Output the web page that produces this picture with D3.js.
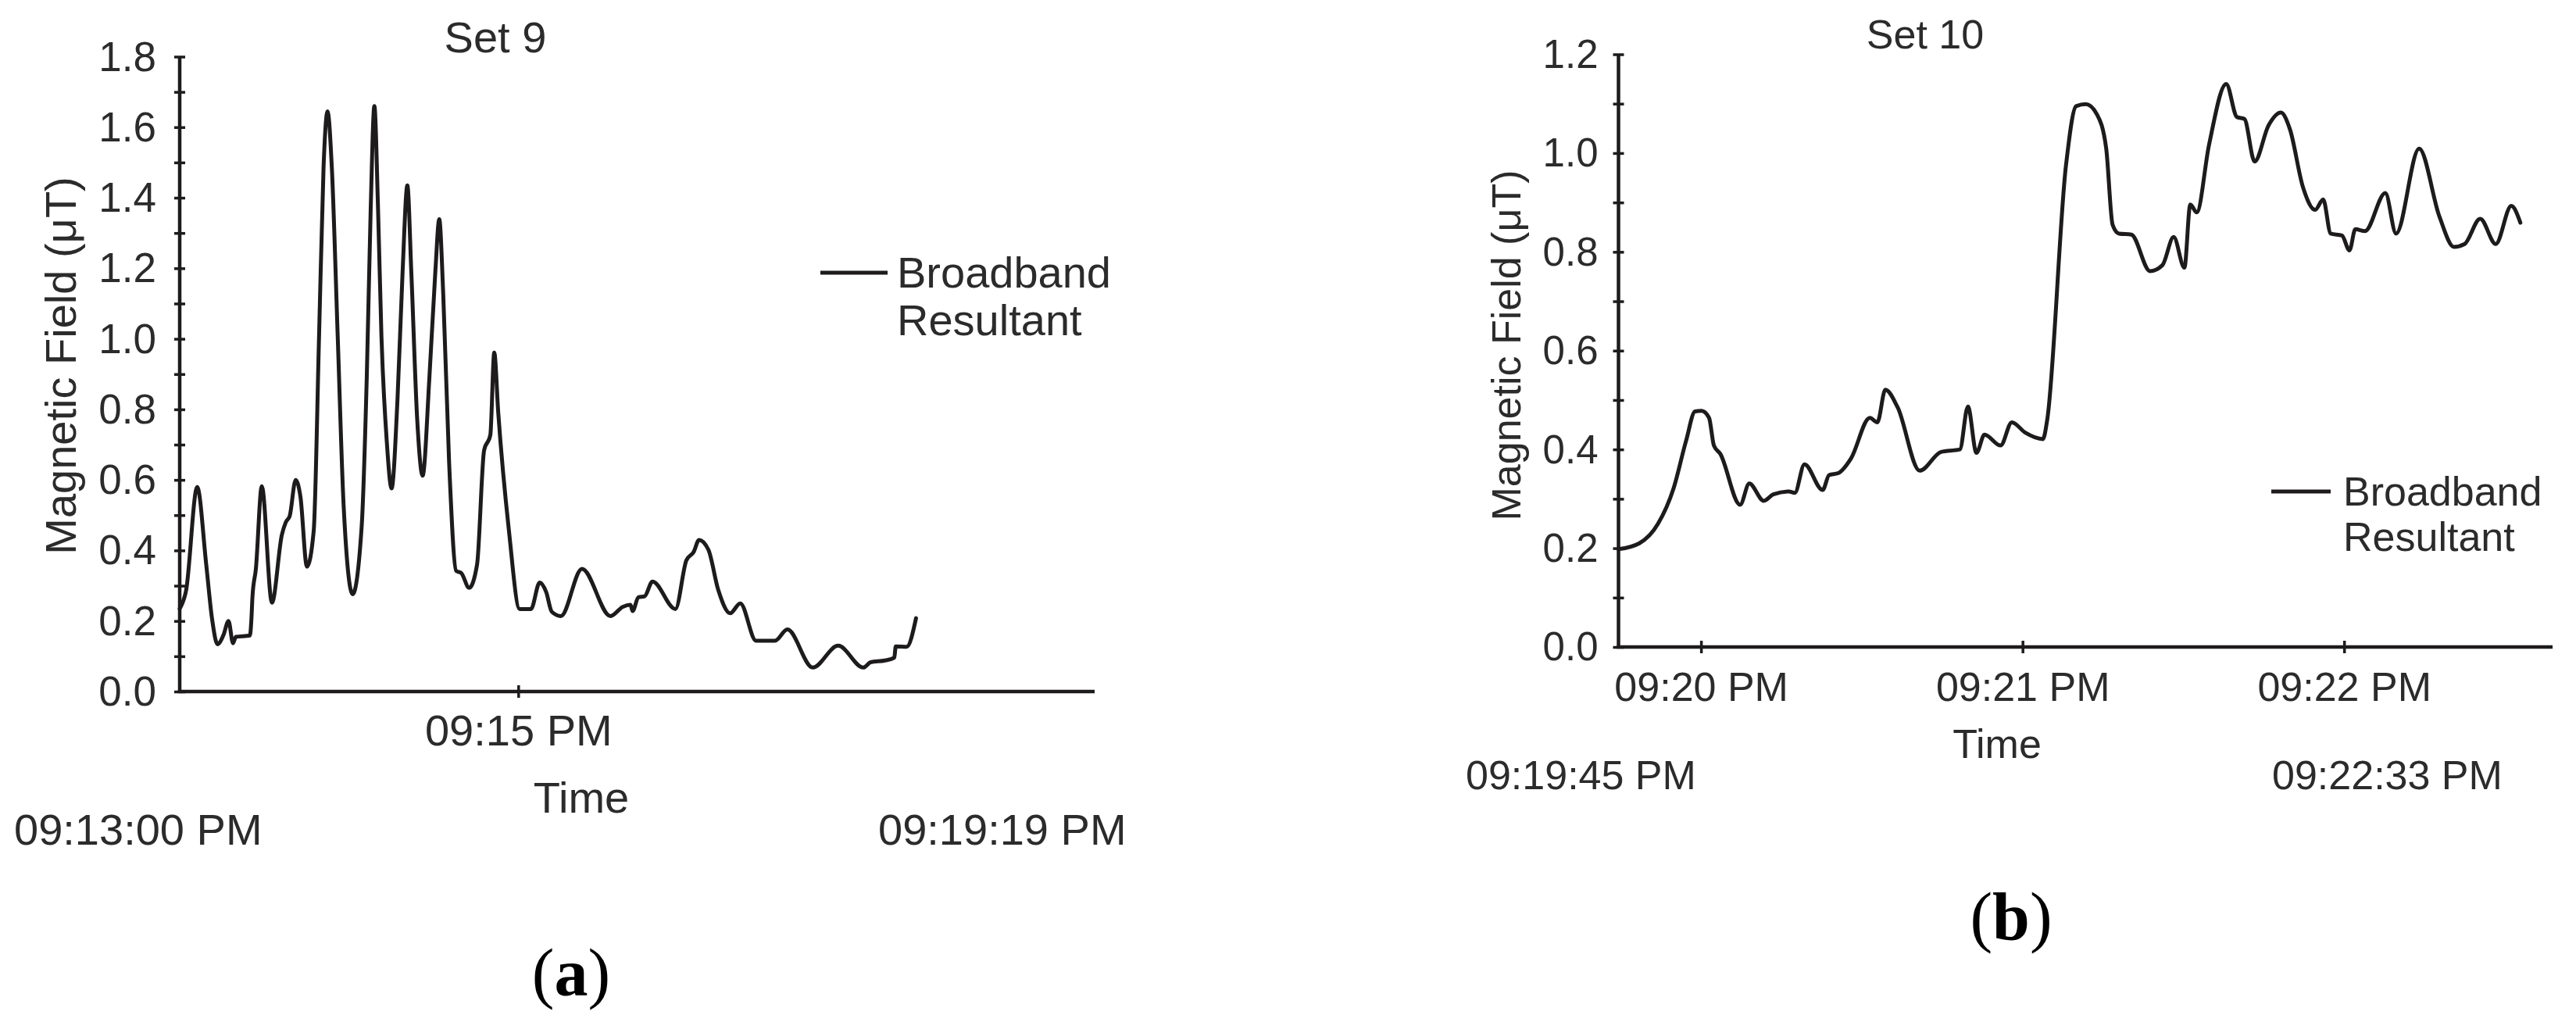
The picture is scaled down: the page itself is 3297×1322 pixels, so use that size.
<!DOCTYPE html>
<html>
<head>
<meta charset="utf-8">
<script src="https://cdnjs.cloudflare.com/ajax/libs/d3/7.8.5/d3.min.js"></script>
<style>
  html, body { margin: 0; padding: 0; background: #ffffff; }
  svg { display: block; }
</style>
</head>
<body>
<svg id="chart" width="3297" height="1322"></svg>
<script>
// ---------------- DATA ----------------
// Set 9: seconds after 09:13:00 PM, magnetic field (µT)
const set9Seconds = [0, 2.3, 6.2, 9.4, 11.5, 13.4, 15.5, 17.3, 18.9, 19.9, 24.9, 25.4, 25.8, 27, 29.1, 32.7, 36.2, 37.6, 39, 41.1, 42.8, 45.1, 47.5, 49.4, 51, 52.4, 53.9, 56, 58.1, 61.3, 64.5, 66.3, 67.7, 69, 70.3, 71.5, 73.4, 75.1, 77.2, 79, 80.7, 82.1, 84.2, 86.1, 88.5, 90.6, 92, 93.4, 95.5, 98, 99.8, 102.6, 105.4, 107.9, 110.1, 111.5, 112.9, 116.7, 120.5, 124.5, 127.6, 129.9, 131.9, 135.1, 142.6, 152.7, 157, 159.8, 160.5, 162.6, 164.8, 167.6, 175.7, 179.6, 182.2, 184.1, 187.4, 190.9, 195.1, 198.7, 204.3, 211, 215.4, 224.4, 233.4, 242.3, 244.9, 250, 253.3, 253.8, 257.7, 261];
const set9Values = [0.235, 0.288, 0.58, 0.36, 0.204, 0.134, 0.16, 0.2, 0.137, 0.155, 0.159, 0.203, 0.27, 0.348, 0.582, 0.252, 0.444, 0.48, 0.498, 0.60, 0.552, 0.354, 0.456, 1.009, 1.489, 1.645, 1.489, 1.009, 0.528, 0.276, 0.468, 0.889, 1.369, 1.66, 1.369, 1.009, 0.709, 0.576, 0.829, 1.189, 1.435, 1.189, 0.769, 0.612, 0.889, 1.189, 1.339, 1.129, 0.648, 0.342, 0.336, 0.294, 0.36, 0.684, 0.727, 0.961, 0.792, 0.456, 0.234, 0.234, 0.309, 0.282, 0.226, 0.214, 0.348, 0.214, 0.24, 0.246, 0.228, 0.267, 0.27, 0.312, 0.234, 0.372, 0.396, 0.43, 0.402, 0.288, 0.222, 0.25, 0.144, 0.144, 0.176, 0.068, 0.13, 0.068, 0.083, 0.088, 0.096, 0.128, 0.127, 0.208];

// Set 10: seconds relative to 09:20:00 PM, magnetic field (µT)
const set10Seconds = [-15.4, -11.5, -8.05, -5.1, -2.8, -1.1, 0.1, 1.5, 2.4, 3.6, 7.3, 9, 11.7, 13.5, 16.4, 17.5, 19.3, 22.7, 23.9, 25.6, 28, 31.5, 32.9, 34.4, 36.7, 40.8, 44.8, 48.3, 49.8, 51.4, 52.9, 55.9, 58, 60.5, 63.8, 64.6, 68.1, 70, 71.8, 73.9, 75.6, 76.8, 78, 80.3, 83.8, 86.1, 88.2, 90.2, 91.3, 92.5, 94.8, 98, 100, 101.4, 103.3, 105.9, 108.2, 109.9, 112.3, 114.6, 116.1, 117.5, 119.6, 121, 122.1, 123.9, 127.7, 129.7, 134, 137.8, 140.5, 142.5, 145.4, 148.3, 151.2, 152.9];
const set10Values = [0.198, 0.21, 0.249, 0.322, 0.417, 0.477, 0.478, 0.464, 0.408, 0.391, 0.288, 0.331, 0.296, 0.309, 0.315, 0.312, 0.37, 0.318, 0.348, 0.352, 0.382, 0.464, 0.455, 0.521, 0.485, 0.357, 0.395, 0.40, 0.487, 0.393, 0.43, 0.408, 0.455, 0.434, 0.421, 0.46, 0.975, 1.095, 1.099, 1.078, 1.01, 0.855, 0.837, 0.835, 0.761, 0.773, 0.83, 0.768, 0.896, 0.88, 1.017, 1.14, 1.073, 1.069, 0.983, 1.056, 1.082, 1.048, 0.932, 0.885, 0.906, 0.837, 0.833, 0.803, 0.846, 0.842, 0.919, 0.837, 1.009, 0.871, 0.81, 0.816, 0.867, 0.816, 0.893, 0.859];

// Axis domains and tick labels
const set9TimeDomain = ["21:13:00", "21:18:24.3"];
const set9TimeTicks = ["21:15:00"];
const set9ValueDomain = [0, 1.8];
const set10TimeDomain = ["21:19:44.6", "21:22:38.9"];
const set10TimeTicks = ["21:20:00", "21:21:00", "21:22:00"];
const set10ValueDomain = [0, 1.2];

const titles = ["Set 9", "Set 10"];
const yAxisTitle = "Magnetic Field (\u03bcT)";
const xAxisTitle = "Time";
const legendLines = ["Broadband", "Resultant"];
const set9RangeLabels = ["09:13:00 PM", "09:19:19 PM"];
const set10RangeLabels = ["09:19:45 PM", "09:22:33 PM"];
const panelLetters = ["a", "b"];

// ---------------- HELPERS ----------------
function toDate(str) {
  const [h, m, s] = str.split(":").map(Number);
  const sec = Math.floor(s);
  const ms = Math.round((s - sec) * 1000);
  return new Date(2000, 0, 1, h, m, sec, ms);
}
function offsetDate(base, seconds) {
  return new Date(toDate(base).getTime() + seconds * 1000);
}

const INK = "#2b2b2b";
const LINE = "#1e1b1c";
const FONT = "'Liberation Sans', Arial, Helvetica, sans-serif";
const svg = d3.select("#chart");
svg.append("rect").attr("width", 3297).attr("height", 1322).attr("fill", "#fff");

function drawPanel(cfg) {
  const x = d3.scaleTime().domain(cfg.timeDomain.map(toDate)).range(cfg.xRange);
  const y = d3.scaleLinear().domain(cfg.valueDomain).range(cfg.yRange);
  const g = svg.append("g");

  // y axis with ticks every 0.1, labels every 0.2
  const yTicks = d3.range(0, Math.round(cfg.valueDomain[1] * 10) + 1).map(i => i / 10);
  const yAxis = d3.axisLeft(y)
    .tickValues(yTicks)
    .tickSizeInner(cfg.tick)
    .tickSizeOuter(0)
    .tickPadding(cfg.yLabelGap - cfg.tick)
    .tickFormat(d => (Math.round(d * 10) % 2 === 0) ? d3.format(".1f")(d) : "");
  const ya = g.append("g").attr("transform", `translate(${cfg.xRange[0]},0)`).call(yAxis);
  ya.select(".domain").attr("stroke", LINE).attr("stroke-width", 4.5)
    .attr("d", `M0,${cfg.yRange[0] + 2}V${cfg.yRange[1]}`);
  ya.selectAll(".tick line").attr("x1", cfg.tick).attr("stroke", LINE).attr("stroke-width", 3.5);
  ya.selectAll(".tick text").attr("fill", INK).style("font-family", FONT)
    .style("font-size", cfg.yTickFont + "px").attr("dy", "0.33em");

  // x axis
  const xAxis = d3.axisBottom(x)
    .tickValues(cfg.timeTicks.map(toDate))
    .tickSizeInner(cfg.tick + 1)
    .tickSizeOuter(0)
    .tickFormat(d3.timeFormat("%I:%M %p"));
  const xa = g.append("g").attr("transform", `translate(0,${cfg.yRange[0]})`).call(xAxis);
  xa.select(".domain").attr("stroke", LINE).attr("stroke-width", 4.5)
    .attr("d", `M${cfg.xRange[0] - 2.25},0H${cfg.xRange[1]}`);
  xa.selectAll(".tick line").attr("y1", -(cfg.tick + 1)).attr("stroke", LINE).attr("stroke-width", 3.5);
  xa.selectAll(".tick text").attr("fill", INK).style("font-family", FONT)
    .style("font-size", cfg.font + "px").attr("y", cfg.xLabelBaseline).attr("dy", null);

  // line
  const pts = cfg.seconds.map((s, i) => ({ t: offsetDate(cfg.base, s), v: cfg.values[i] }));
  const line = d3.line().x(d => x(d.t)).y(d => y(d.v)).curve(d3.curveMonotoneX);
  g.append("path").datum(pts).attr("d", line)
    .attr("fill", "none").attr("stroke", LINE).attr("stroke-width", 5)
    .attr("stroke-linejoin", "round").attr("stroke-linecap", "round");

  const txt = (str, px, py, size, anchor) => g.append("text").text(str)
    .attr("x", px).attr("y", py).attr("fill", INK)
    .attr("text-anchor", anchor || "start")
    .style("font-family", FONT).style("font-size", size + "px");

  // title
  txt(cfg.title, cfg.titlePos[0], cfg.titlePos[1], cfg.font, "middle");
  // y title
  g.append("text").text(yAxisTitle)
    .attr("transform", `translate(${cfg.yTitlePos[0]},${cfg.yTitlePos[1]}) rotate(-90)`)
    .attr("text-anchor", "middle").attr("fill", INK)
    .style("font-family", FONT).style("font-size", cfg.font + "px");
  // x title
  txt(xAxisTitle, cfg.xTitlePos[0], cfg.xTitlePos[1], cfg.font, "middle");
  // range labels
  txt(cfg.rangeLabels[0], cfg.rangePos[0][0], cfg.rangePos[0][1], cfg.font);
  txt(cfg.rangeLabels[1], cfg.rangePos[1][0], cfg.rangePos[1][1], cfg.font);
  // legend
  const lg = cfg.legend;
  g.append("line").attr("x1", lg.x1).attr("x2", lg.x2).attr("y1", lg.y).attr("y2", lg.y)
    .attr("stroke", LINE).attr("stroke-width", 5);
  txt(legendLines[0], lg.tx, lg.b1, cfg.font);
  txt(legendLines[1], lg.tx, lg.b2, cfg.font);
  // panel letter
  const pl = g.append("text").attr("x", cfg.letterPos[0]).attr("y", cfg.letterPos[1])
    .attr("text-anchor", "middle").attr("fill", "#000")
    .style("font-family", "'Liberation Serif', 'Times New Roman', serif").style("font-size", "86px");
  pl.append("tspan").text("(");
  pl.append("tspan").text(cfg.letter).style("font-weight", "bold");
  pl.append("tspan").text(")");
}

drawPanel({
  base: "21:13:00",
  seconds: set9Seconds, values: set9Values,
  timeDomain: set9TimeDomain, timeTicks: set9TimeTicks, valueDomain: set9ValueDomain,
  xRange: [230, 1401], yRange: [885, 72.5],
  tick: 7, yLabelGap: 30, yTickFont: 53, font: 56, xLabelBaseline: 69,
  title: titles[0], titlePos: [634, 67],
  yTitlePos: [97, 468], xTitlePos: [744, 1040],
  rangeLabels: set9RangeLabels, rangePos: [[18, 1081], [1124, 1081]],
  legend: { x1: 1050, x2: 1136, y: 349, tx: 1148, b1: 368, b2: 429 },
  letter: panelLetters[0], letterPos: [731, 1274]
});

drawPanel({
  base: "21:20:00",
  seconds: set10Seconds, values: set10Values,
  timeDomain: set10TimeDomain, timeTicks: set10TimeTicks, valueDomain: set10ValueDomain,
  xRange: [2071.5, 3267], yRange: [828, 69.5],
  tick: 7, yLabelGap: 26, yTickFont: 51, font: 52, xLabelBaseline: 69,
  title: titles[1], titlePos: [2464, 62],
  yTitlePos: [1946, 442], xTitlePos: [2556, 970],
  rangeLabels: set10RangeLabels, rangePos: [[1876, 1010], [2908, 1010]],
  legend: { x1: 2907, x2: 2983, y: 629, tx: 2999, b1: 647, b2: 705 },
  letter: panelLetters[1], letterPos: [2574, 1202]
});
</script>
</body>
</html>
